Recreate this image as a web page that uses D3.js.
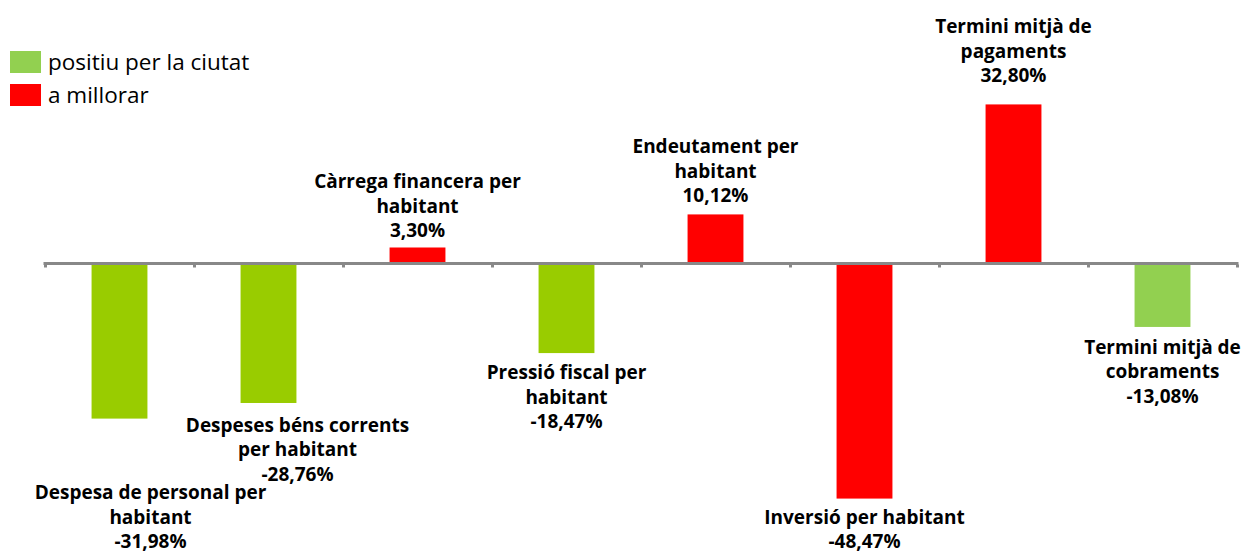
<!DOCTYPE html>
<html><head><meta charset="utf-8">
<script src="https://cdn.jsdelivr.net/npm/d3@7"></script>
<style>
html,body{margin:0;padding:0;background:#fff;}
svg{display:block;}
text{font-variant-ligatures:none;}
</style></head>
<body>
<svg id="c" width="1242" height="553"></svg>
<script>
// ---- data ----
const categories = [
  "Despesa de personal per\nhabitant",
  "Despeses béns corrents\nper habitant",
  "Càrrega financera per\nhabitant",
  "Pressió fiscal per\nhabitant",
  "Endeutament per\nhabitant",
  "Inversió per habitant",
  "Termini mitjà de\npagaments",
  "Termini mitjà de\ncobraments"
];
const values = [-31.98, -28.76, 3.30, -18.47, 10.12, -48.47, 32.80, -13.08];
const valueLabels = ["-31,98%", "-28,76%", "3,30%", "-18,47%", "10,12%", "-48,47%", "32,80%", "-13,08%"];
const groups = ["pos", "pos", "neg", "pos", "neg", "neg", "neg", "pos"];
const legendLabels = ["positiu per la ciutat", "a millorar"];

// ---- styles / layout ----
const barColors = ["#99CC00", "#99CC00", "#FF0000", "#99CC00", "#FF0000", "#FF0000", "#FF0000", "#92D050"];
const legendColors = ["#92D050", "#FF0000"];
const labelDx = [31, 29, 0, 0, 0, 0, 0, 0];
const labelGap = [85, 29, 10, 26, 12, 26, 22, 27];

const svg = d3.select("#c");
const x = d3.scaleBand().domain(d3.range(categories.length)).range([45, 1237]).paddingInner(0.625).paddingOuter(0.3125);
const y = d3.scaleLinear().domain([-50, 35]).range([506, 93.75]);
const y0 = y(0);

// bars
svg.append("g").selectAll("rect").data(values).join("rect")
  .attr("x", (d, i) => x(i))
  .attr("width", x.bandwidth())
  .attr("y", d => d >= 0 ? y(d) : y0)
  .attr("height", d => Math.abs(y(d) - y0))
  .attr("fill", (d, i) => barColors[i]);

// axis
const xEdges = d3.scaleLinear().domain([0, categories.length]).range([45, 1237]);
const axis = d3.axisBottom(xEdges).ticks(categories.length).tickSize(3).tickFormat("");
const ag = svg.append("g").attr("transform", `translate(0,${y0})`).call(axis);
ag.select(".domain").attr("stroke", "#888888").attr("stroke-width", 3).attr("d", `M43.5,0H1238.5`);
ag.selectAll(".tick line").attr("stroke", "#888888").attr("stroke-width", 3).attr("y1", 1).attr("y2", 4);

// labels
const lh = 24.5;
const maxBase = 548;
const lab = svg.append("g").attr("font-family", "'Open Sans', sans-serif").attr("font-weight", "bold")
  .attr("font-size", 19).attr("fill", "#000").attr("text-anchor", "middle");
values.forEach((v, i) => {
  const lines = categories[i].split("\n").concat([valueLabels[i]]);
  const cx = x(i) + x.bandwidth() / 2 + labelDx[i];
  let firstBase;
  if (v < 0) firstBase = y(v) + labelGap[i];
  else firstBase = y(v) - labelGap[i] - (lines.length - 1) * lh;
  const lastBase = firstBase + (lines.length - 1) * lh;
  if (lastBase > maxBase) firstBase -= (lastBase - maxBase);
  const t = lab.append("text").attr("x", cx).attr("y", firstBase);
  lines.forEach((l, k) => {
    t.append("tspan").attr("x", cx).attr("y", firstBase + k * lh).text(l);
  });
});

// legend
const lg = svg.append("g").attr("font-family", "'Open Sans', sans-serif").attr("font-size", 22.5).attr("fill", "#000");
legendLabels.forEach((l, i) => {
  lg.append("rect").attr("x", 10).attr("y", 51 + i * 33).attr("width", 31).attr("height", 22).attr("fill", legendColors[i]);
  lg.append("text").attr("x", 48).attr("y", 70 + i * 33).text(l);
});
</script>
</body></html>
